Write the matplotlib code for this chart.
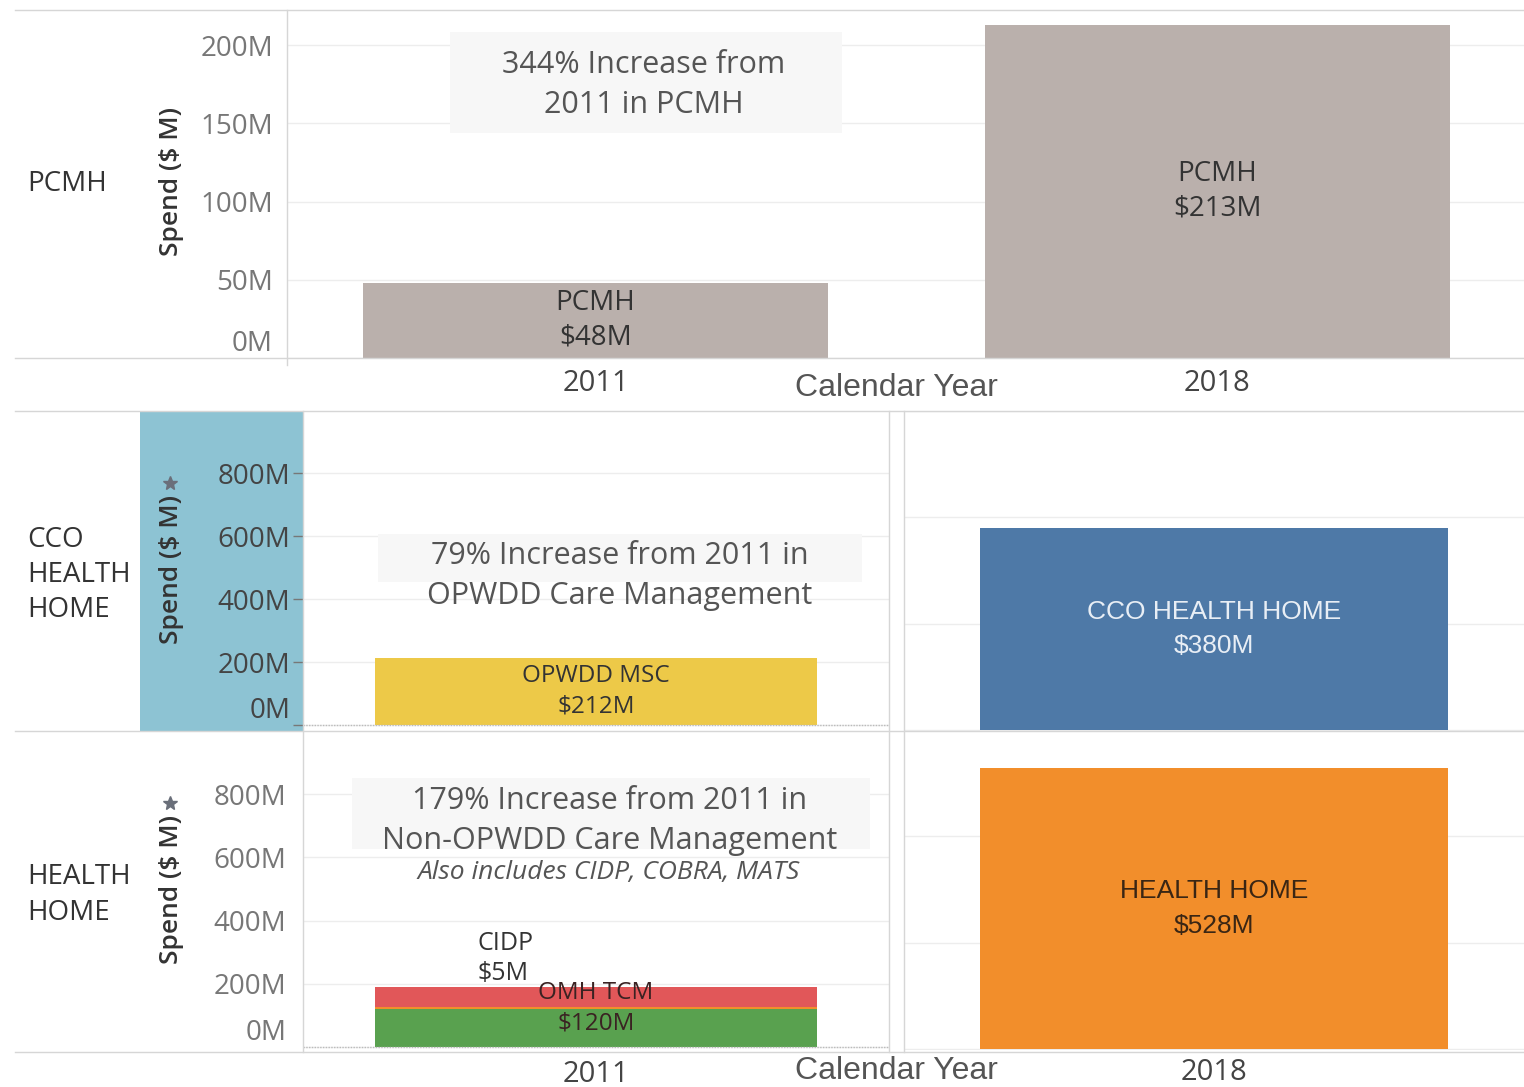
#!/usr/bin/env python3

# Care management spend, 2011 vs 2018 (PCMH / CCO Health Home / Health Home).

import matplotlib
matplotlib.use("Agg")
from matplotlib import pyplot as plt
from matplotlib.lines import Line2D
from matplotlib.patches import Rectangle

plt.rcParams["font.family"] = ["Open Sans", "DejaVu Sans"]
plt.rcParams["text.parse_math"] = False

# ---- data ($ M) ----
years = ["2011", "2018"]
pcmh_spend = [48, 213]

cco_2011_label = "OPWDD MSC"
cco_2011_spend = 212
cco_2018_label = "CCO HEALTH HOME"
cco_2018_spend = 380

hh_2011_parts = ["OMH TCM", "CIDP", "COBRA / MATS"]
hh_2011_spend = [120, 5, 65]
hh_2018_label = "HEALTH HOME"
hh_2018_spend = 528

row_headers = ["PCMH", "CCO\nHEALTH\nHOME", "HEALTH\nHOME"]
notes = [
    "344% Increase from\n2011 in PCMH",
    "79% Increase from 2011 in\nOPWDD Care Management",
    "179% Increase from 2011 in\nNon-OPWDD Care Management",
]
note_sub = "Also includes CIDP, COBRA, MATS"

pcmh_ticks = [0, 50, 100, 150, 200]
big_ticks = [0, 200, 400, 600, 800]

# ---- colours ----
c_grey = "#bab0ac"
c_blue = "#4e79a7"
c_orange = "#f28e2b"
c_red = "#e15759"
c_green = "#59a14f"
c_yellow = "#edc948"
c_band = "#8dc3d3"
c_line = "#d6d6d6"
c_grid = "#ededed"

W, H = 1524, 1087
fig = plt.figure(figsize=(W / 100, H / 100), dpi=100)


def px_axes(x0, y0, x1, y1):
    return fig.add_axes([x0 / W, 1 - y1 / H, (x1 - x0) / W, (y1 - y0) / H])


def fx(x):
    return x / W


def fy(y):
    return 1 - y / H


def fig_line(x0, y0, x1, y1, **kw):
    kw.setdefault("color", c_line)
    kw.setdefault("lw", 1)
    fig.add_artist(Line2D([fx(x0), fx(x1)], [fy(y0), fy(y1)],
                          transform=fig.transFigure, **kw))


def fig_box(x0, y0, x1, y1, color, zorder=1):
    fig.add_artist(Rectangle((fx(x0), fy(y1)), (x1 - x0) / W, (y1 - y0) / H,
                             transform=fig.transFigure, facecolor=color,
                             edgecolor="none", zorder=zorder))


def style(ax, ticks, tick_color="#777777", show=True, tick_len=0, pad=10):
    for s in ax.spines.values():
        s.set_visible(False)
    ax.set_yticks(ticks)
    ax.yaxis.grid(True, color=c_grid, lw=1)
    ax.set_axisbelow(True)
    ax.tick_params(axis="y", length=tick_len, color="#777777", pad=pad,
                   labelsize=20, labelcolor=tick_color, width=1)
    ax.tick_params(axis="x", length=0, pad=8, labelsize=21,
                   labelcolor="#444444")
    if show:
        ax.set_yticklabels([f"{t}M" for t in ticks])
        ax.get_yticklabels()[0].set_va("bottom")
    else:
        ax.set_yticklabels([])


# ---- top row: PCMH ----
ax_top = px_axes(287, 10, 1524, 358)
style(ax_top, pcmh_ticks, pad=10)
ax_top.set_ylim(0, 222.4)
ax_top.set_xlim(-0.496, 1.493)
ax_top.bar(range(len(years)), pcmh_spend, width=0.748, color=c_grey)
ax_top.set_xticks(range(len(years)))
ax_top.set_xticklabels(years)
for i, v in enumerate(pcmh_spend):
    ax_top.text(i, v / 2, f"PCMH\n${v}M", ha="center", va="center",
                fontsize=20, color="#333333", linespacing=1.33)

# ---- middle row: CCO Health Home ----
ax_cl = px_axes(303, 411, 889, 731)
style(ax_cl, big_ticks, tick_color="#444444", tick_len=7, pad=2)
ax_cl.set_ylim(-19, 997)
ax_cl.set_xlim(-0.5, 0.5)
ax_cl.bar([0], [cco_2011_spend], width=0.753, color=c_yellow)
ax_cl.axhline(0, color="#bbbbbb", lw=1, ls=(0, (1, 1)))
ax_cl.set_xticks([])
ax_cl.text(0, cco_2011_spend / 2, f"{cco_2011_label}\n${cco_2011_spend}M",
           ha="center", va="center", fontsize=17.5, color="#333333",
           linespacing=1.37)

ax_cr = px_axes(904, 411, 1524, 731)
style(ax_cr, [0, 200, 400, 600], show=False)
ax_cr.set_ylim(-2, 600)
ax_cr.set_xlim(-0.5, 0.5)
ax_cr.bar([0], [cco_2018_spend], width=0.755, color=c_blue)
ax_cr.set_xticks([])
ax_cr.text(0, cco_2018_spend / 2, f"{cco_2018_label}\n${cco_2018_spend}M",
           ha="center", va="center", fontsize=19, color="#e8eef5",
           family=["Liberation Sans Narrow", "Liberation Sans"],
           linespacing=1.55)

# ---- bottom row: Health Home ----
ax_hl = px_axes(303, 731, 889, 1052)
style(ax_hl, big_ticks, pad=12)
ax_hl.set_ylim(-16, 1000)
ax_hl.set_xlim(-0.5, 0.5)
seg_colors = [c_green, c_orange, c_red]
bottom = 0
for v, c in zip(hh_2011_spend, seg_colors):
    ax_hl.bar([0], [v], bottom=bottom, width=0.753, color=c)
    bottom += v
ax_hl.axhline(0, color="#bbbbbb", lw=1, ls=(0, (1, 1)))
ax_hl.set_xticks([0])
ax_hl.set_xticklabels([years[0]])
ax_hl.tick_params(axis="x", pad=6)
ax_hl.text(0, hh_2011_spend[0] + hh_2011_spend[1] / 2,
           f"{hh_2011_parts[0]}\n${hh_2011_spend[0]}M", ha="center",
           va="center", fontsize=17.5, color="#3a2222", linespacing=1.38)
ax_hl.annotate(f"{hh_2011_parts[1]}\n${hh_2011_spend[1]}M",
               xy=(-0.203, sum(hh_2011_spend[:2])), xytext=(0, 21),
               textcoords="offset pixels", ha="left", va="bottom",
               fontsize=18, color="#333333", linespacing=1.3)

ax_hr = px_axes(904, 731, 1524, 1050)
style(ax_hr, [0, 200, 400], show=False)
ax_hr.set_ylim(-2, 598)
ax_hr.set_xlim(-0.5, 0.5)
ax_hr.bar([0], [hh_2018_spend], width=0.755, color=c_orange)
ax_hr.set_xticks([0])
ax_hr.set_xticklabels([years[1]])
ax_hr.tick_params(axis="x", pad=6)
ax_hr.text(0, hh_2018_spend / 2, f"{hh_2018_label}\n${hh_2018_spend}M",
           ha="center", va="center", fontsize=19, color="#3a2614",
           family=["Liberation Sans Narrow", "Liberation Sans"],
           linespacing=1.55)

# ---- frame lines and header band ----
fig_box(140, 411, 303, 731, c_band, zorder=-1)
for y in (10, 358, 411, 731, 1052):
    fig_line(15, y, 1524, y)
fig_line(287, 10, 287, 365)
fig_line(303, 411, 303, 1052)
fig_line(889, 411, 889, 1052)
fig_line(904, 411, 904, 1052)

# row headers and axis titles
row_y = [184, 575, 895]
for txt, y in zip(row_headers, row_y):
    fig.text(fx(27), fy(y), txt, ha="left", va="center", fontsize=20,
             color="#333333", linespacing=1.35)

for y in (182, 570, 890):
    fig.text(fx(172), fy(y), "Spend ($ M)", rotation=90, ha="center",
             va="center", fontsize=19, color="#333333", weight="semibold")
for y in (483, 803):
    fig.add_artist(Line2D([fx(170)], [fy(y)], marker="*", markersize=10,
                          color="#6a6f7a", transform=fig.transFigure))

for y in (388, 1071):
    fig.text(fx(896), fy(y), "Calendar Year", ha="center", va="center",
             fontsize=23, color="#555555", family="Liberation Sans")

# ---- annotation boxes ----
fig_box(450, 32, 842, 133, "#f7f7f7")
fig.text(fx(644), fy(85), notes[0], ha="center", va="center", fontsize=22,
         color="#555555", linespacing=1.42, zorder=3)

fig_box(378, 534, 862, 582, "#f7f7f7")
fig.text(fx(620), fy(576), notes[1], ha="center", va="center", fontsize=22,
         color="#555555", linespacing=1.42, zorder=3)

fig_box(352, 778, 870, 849, "#f7f7f7")
fig.text(fx(610), fy(821), notes[2], ha="center", va="center", fontsize=22,
         color="#555555", linespacing=1.42, zorder=3)
fig.text(fx(609), fy(872), note_sub, ha="center", va="center", fontsize=19,
         color="#555555", style="italic", zorder=3)

plt.savefig("out.png", dpi=100)
plt.close()
